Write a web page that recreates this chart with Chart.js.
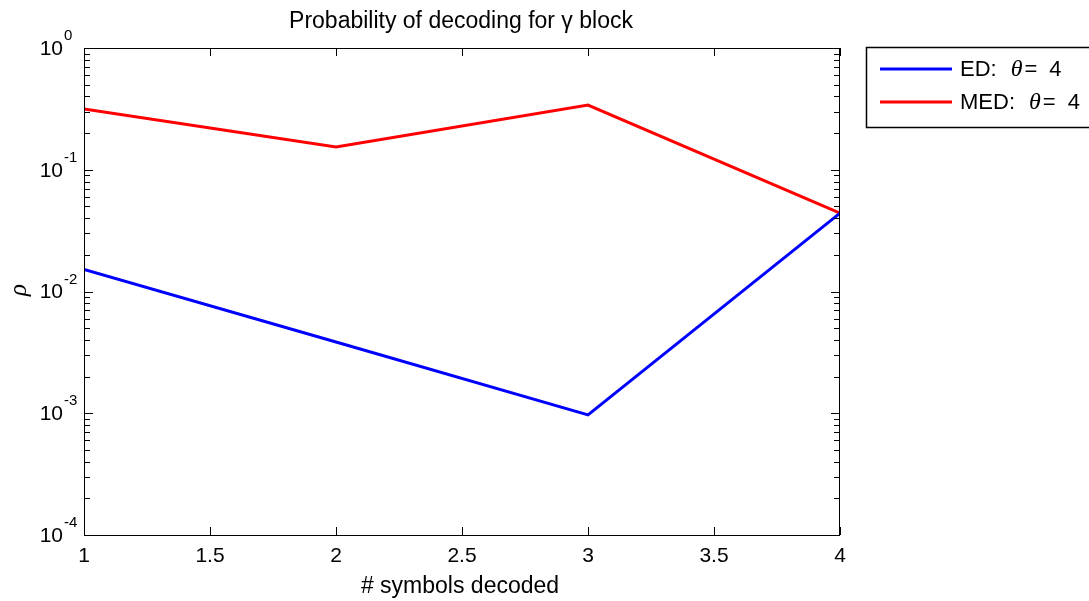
<!DOCTYPE html>
<html><head><meta charset="utf-8">
<script src="https://cdn.jsdelivr.net/npm/chart.js@4.4.1/dist/chart.umd.min.js"></script>
<style>html,body{margin:0;padding:0;background:#fff;overflow:hidden}</style>
</head><body>
<canvas id="c" width="1089" height="601"></canvas>
<script>
// ---- data ----
const xValues = [1, 2, 3, 4];
const edValues = [0.0152, 0.00385, 0.00097, 0.044];
const medValues = [0.315, 0.154, 0.340, 0.044];
const seriesNames = ['ED', 'MED'];
const thetaValue = 4;
const xTickValues = [1, 1.5, 2, 2.5, 3, 3.5, 4];
const yDecades = [-4, -3, -2, -1, 0];
const titleText = 'Probability of decoding for \u03b3 block';
const xLabelText = '# symbols decoded';
const yLabelText = '\u03c1';

const SANS = '"Liberation Sans", Arial, sans-serif';
const SERIF = '"Liberation Serif", "Times New Roman", serif';

const matlabPlugin = {
  id: 'matlabPlugin',
  afterDraw(chart) {
    const ctx = chart.ctx;
    const a = chart.chartArea;
    const xs = chart.scales.x, ys = chart.scales.y;
    ctx.save();
    // frame
    ctx.strokeStyle = '#000';
    ctx.lineWidth = 1;
    ctx.strokeRect(a.left + 0.5, a.top + 0.5, a.right - a.left - 1, a.bottom - a.top);
    // y ticks (log, inward, both sides)
    ctx.beginPath();
    yDecades.forEach(k => {
      const yMaj = Math.round(ys.getPixelForValue(Math.pow(10, k))) + 0.5;
      ctx.moveTo(a.left, yMaj); ctx.lineTo(a.left + 9, yMaj);
      ctx.moveTo(a.right, yMaj); ctx.lineTo(a.right - 9, yMaj);
      if (k < 0) {
        for (let m = 2; m <= 9; m++) {
          const y = Math.round(ys.getPixelForValue(m * Math.pow(10, k))) + 0.5;
          ctx.moveTo(a.left, y); ctx.lineTo(a.left + 6, y);
          ctx.moveTo(a.right, y); ctx.lineTo(a.right - 6, y);
        }
      }
    });
    // x ticks (inward, top & bottom)
    xTickValues.forEach(v => {
      const x = Math.round(xs.getPixelForValue(v)) + 0.5;
      ctx.moveTo(x, a.bottom); ctx.lineTo(x, a.bottom - 8);
      ctx.moveTo(x, a.top); ctx.lineTo(x, a.top + 8);
    });
    ctx.stroke();
    // y tick labels 10^k
    ctx.fillStyle = '#000';
    yDecades.forEach(k => {
      const y = ys.getPixelForValue(Math.pow(10, k));
      ctx.font = '21px ' + SANS;
      ctx.textAlign = 'right'; ctx.textBaseline = 'middle';
      ctx.fillText('10', a.left - 21, y + 1);
      ctx.font = '15px ' + SANS;
      ctx.textAlign = 'left';
      ctx.fillText(k === 0 ? '0' : '-' + Math.abs(k), a.left - 20, y - 12);
    });
    // title
    const cx = (a.left + a.right) / 2;
    ctx.font = '23px ' + SANS;
    ctx.textAlign = 'center'; ctx.textBaseline = 'middle';
    ctx.fillText(titleText, cx - 1, 22);
    // x label
    ctx.fillText(xLabelText, cx - 2, 587);
    // y label
    ctx.save();
    ctx.translate(19, 290);
    ctx.rotate(-Math.PI / 2);
    ctx.font = 'italic 25px ' + SERIF;
    ctx.textAlign = 'center'; ctx.textBaseline = 'middle';
    ctx.fillText(yLabelText, 0, 0);
    ctx.restore();
    // legend
    const lx = 866, ly = 47, lh = 80;
    ctx.lineWidth = 1.5;
    ctx.strokeStyle = '#000';
    ctx.strokeRect(lx + 0.5, ly + 0.5, 300, lh);
    chart.data.datasets.forEach((ds, i) => {
      const y = 69 + i * 33;
      ctx.strokeStyle = ds.borderColor;
      ctx.lineWidth = 3;
      ctx.beginPath(); ctx.moveTo(880, y); ctx.lineTo(952, y); ctx.stroke();
      ctx.fillStyle = '#000';
      ctx.textAlign = 'left'; ctx.textBaseline = 'middle';
      ctx.font = '22px ' + SANS;
      let tx = 960;
      const p1 = seriesNames[i] + ':';
      ctx.fillText(p1, tx, y + 1); tx += ctx.measureText(p1).width + 14;
      ctx.font = 'italic 24px ' + SERIF;
      ctx.fillText('\u03b8', tx, y + 1); tx += ctx.measureText('\u03b8').width + 2;
      ctx.font = '22px ' + SANS;
      ctx.fillText('=', tx, y + 1); tx += ctx.measureText('=').width + 12;
      ctx.fillText(String(thetaValue), tx, y + 1);
    });
    ctx.restore();
  }
};

new Chart(document.getElementById('c'), {
  type: 'line',
  data: {
    datasets: [
      { label: seriesNames[0] + ': \u03b8 = ' + thetaValue, data: xValues.map((x, i) => ({x, y: edValues[i]})),
        borderColor: '#0000ff', borderWidth: 3, pointRadius: 0, fill: false, tension: 0 },
      { label: seriesNames[1] + ': \u03b8 = ' + thetaValue, data: xValues.map((x, i) => ({x, y: medValues[i]})),
        borderColor: '#ff0000', borderWidth: 3, pointRadius: 0, fill: false, tension: 0 }
    ]
  },
  options: {
    responsive: false,
    animation: false,
    devicePixelRatio: 1,
    layout: { padding: { left: 0, top: 48, right: 249, bottom: 0 } },
    plugins: { legend: { display: false }, title: { display: false }, tooltip: { enabled: false } },
    scales: {
      x: {
        type: 'linear', min: 1, max: 4,
        afterBuildTicks(s) { s.ticks = xTickValues.map(v => ({ value: v })); },
        ticks: { font: { family: SANS, size: 21 }, color: '#000', padding: 9, maxRotation: 0, autoSkip: false,
                 callback: v => String(v) },
        grid: { display: false, drawTicks: false },
        border: { display: false },
        afterFit(s) { s.height = 66; }
      },
      y: {
        type: 'logarithmic', min: 1e-4, max: 1,
        ticks: { display: false },
        grid: { display: false, drawTicks: false },
        border: { display: false },
        afterFit(s) { s.width = 84; }
      }
    }
  },
  plugins: [matlabPlugin]
});
</script>
</body></html>
